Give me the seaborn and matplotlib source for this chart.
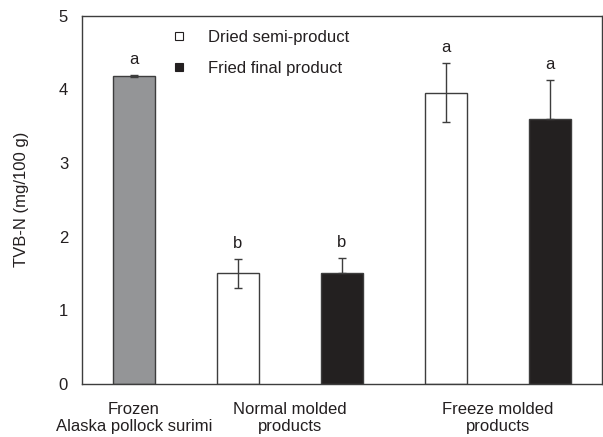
import numpy as np
import pandas as pd
import matplotlib
matplotlib.use("Agg")
import matplotlib.pyplot as plt
import seaborn as sns
from matplotlib.lines import Line2D

# data
bar_names = ["Frozen surimi", "Normal dried", "Normal fried", "Freeze dried", "Freeze fried"]
tvbn = [4.18, 1.50, 1.51, 3.95, 3.60]
tvbn_sd = [0.01, 0.20, 0.20, 0.40, 0.53]
letters = ["a", "b", "b", "a", "a"]
bar_kind = ["raw", "dried", "fried", "dried", "fried"]
groups = ["Frozen\nAlaska pollock surimi", "Normal molded\nproducts", "Freeze molded\nproducts"]
group_members = [[0], [1, 2], [3, 4]]
legend_labels = ["Dried semi-product", "Fried final product"]

fill = {"raw": "#939598", "dried": "#ffffff", "fried": "#231f20"}
ink = "#231f20"
edge = "#3d3d3d"

sns.set_theme(style="white")
plt.rcParams["font.family"] = ["Liberation Sans", "DejaVu Sans"]
plt.rcParams["text.color"] = ink
plt.rcParams["axes.labelcolor"] = ink
plt.rcParams["xtick.color"] = ink
plt.rcParams["ytick.color"] = ink

df = pd.DataFrame({"bar": bar_names, "tvbn": tvbn, "kind": bar_kind})

fig = plt.figure(figsize=(6.03, 4.37), dpi=100)
ax = fig.add_axes([0.136, 0.1213, 0.8624, 0.843])

sns.barplot(data=df, x="bar", y="tvbn", hue="bar", order=bar_names,
            palette=[fill[k] for k in bar_kind], width=0.4, edgecolor=edge,
            linewidth=1.0, legend=False, ax=ax, errorbar=None)

# error bars: black bars only show the upper half
x = np.arange(len(bar_names))
lower = [0 if k == "fried" else s for k, s in zip(bar_kind, tvbn_sd)]
ax.errorbar(x, tvbn, yerr=[lower, tvbn_sd], fmt="none", ecolor=edge,
            elinewidth=1.0, capsize=2.8, capthick=1.0, zorder=5)

for xi, v, s, t in zip(x, tvbn, tvbn_sd, letters):
    ax.text(xi, v + s + 0.15, t, ha="center", va="baseline", fontsize=12)

ax.set_xlim(-0.5, 4.5)
ax.set_ylim(0, 5)
ax.set_yticks(range(6))
ax.set_xticks([np.mean(m) for m in group_members])
ax.set_xticklabels(groups, fontsize=12)
ax.tick_params(axis="x", length=0, pad=13)
ax.tick_params(axis="y", direction="in", length=4.3, width=0.8, pad=10, labelsize=12)
ax.set_xlabel("")
ax.set_ylabel("TVB-N (mg/100 g)", fontsize=12)
ax.yaxis.set_label_coords(-0.102, 0.5)

for sp in ax.spines.values():
    sp.set_visible(True)
    sp.set_color(edge)
    sp.set_linewidth(1.0)

handles = [Line2D([], [], ls="none", marker="s", markersize=6, markerfacecolor=fill[k],
                  markeredgecolor=ink, markeredgewidth=0.8) for k in ["dried", "fried"]]
ax.legend(handles, legend_labels, loc="upper left", bbox_to_anchor=(0.1706, 0.962),
          frameon=False, fontsize=12, handlelength=1.0, handletextpad=1.23,
          labelspacing=0.97, borderpad=0, borderaxespad=0)

fig.savefig("out.png", dpi=100)
